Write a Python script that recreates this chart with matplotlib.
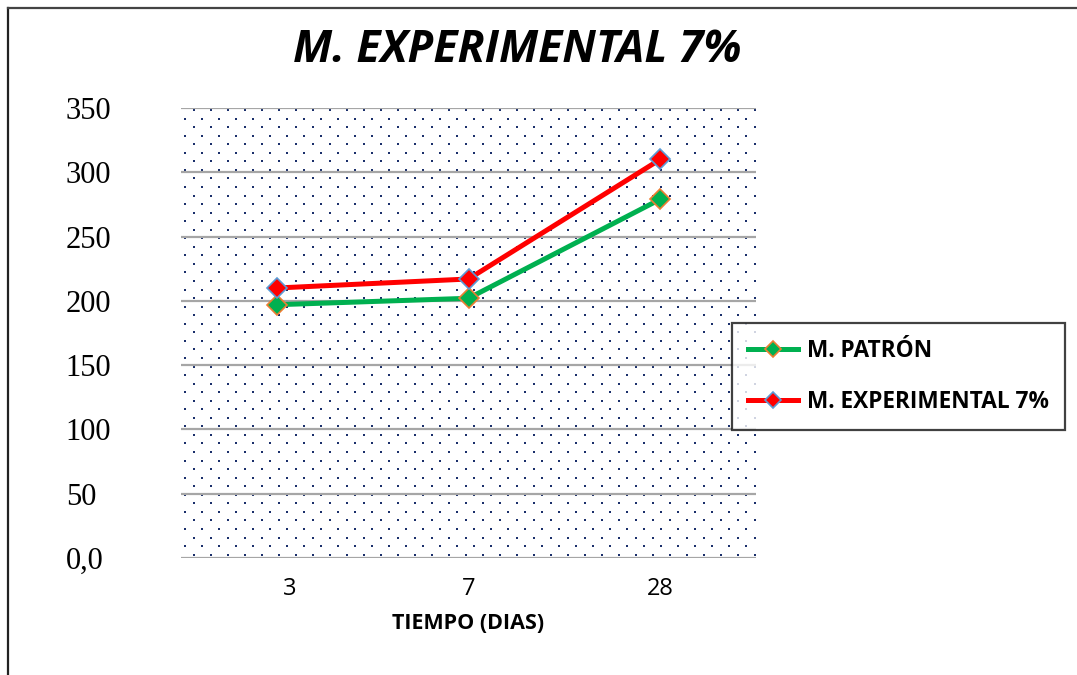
import matplotlib
matplotlib.use("Agg")
import matplotlib.pyplot as plt
import numpy as np
from matplotlib.lines import Line2D
import matplotlib.transforms as mtransforms

# Data
dias = ["3", "7", "28"]
patron = [197, 202, 279]
experimental = [210, 217, 310]
yticks = [0, 50, 100, 150, 200, 250, 300, 350]
yticklabels = ["0,0", "50", "100", "150", "200", "250", "300", "350"]

W, H = 1077, 675
fig = plt.figure(figsize=(W / 100, H / 100), dpi=100)
fig.patch.set_facecolor("white")

# outer frame (left and top edges)
fig.add_artist(Line2D([8 / W, 8 / W], [0, 1 - 8 / H], transform=fig.transFigure,
                      color="#222222", lw=1.6))
fig.add_artist(Line2D([8 / W, 1], [1 - 8 / H, 1 - 8 / H], transform=fig.transFigure,
                      color="#444444", lw=1.6))

L, R, T, B = 181, 756, 108, 558
ax = fig.add_axes([L / W, 1 - B / H, (R - L) / W, (B - T) / H])
ax.set_xlim(-0.5, 2.5)
ax.set_ylim(0, 350)

# dotted background fill
aw, ah = R - L, B - T
dx, dy = 17.0, 8.55
pts_x, pts_y = [], []
row = 0
yy = 2.0
while yy < ah:
    off = 8.5 if row % 2 == 0 else 0.0
    xx = 4.0 + off
    while xx < aw:
        pts_x.append(xx / aw)
        pts_y.append(1 - yy / ah)
        xx += dx
    yy += dy
    row += 1
ax.scatter(pts_x, pts_y, s=2.2, marker="s", color="#1a2f6b", linewidths=0,
           transform=ax.transAxes, zorder=0)

# gridlines
for v in yticks:
    ax.axhline(v, color="#a6a6a6", lw=1.6, zorder=1)

for s in ax.spines.values():
    s.set_visible(False)

x = np.arange(len(dias))
ax.plot(x, patron, color="#00B050", lw=3.6, marker="D", ms=10.5,
        markerfacecolor="#00B050", markeredgecolor="#ED7D31", markeredgewidth=1.2,
        zorder=3, label="M. PATRÓN")
ax.plot(x, experimental, color="#FF0000", lw=3.6, marker="D", ms=10.5,
        markerfacecolor="#FF0000", markeredgecolor="#5B9BD5", markeredgewidth=1.2,
        zorder=4, label="M. EXPERIMENTAL 7%")

ax.set_yticks(yticks)
ax.set_yticklabels(yticklabels, fontfamily="Liberation Serif", fontsize=22, ha="left")
ax.tick_params(axis="y", length=0, pad=83)
ax.set_xticks(x)
ax.set_xticklabels(dias, fontfamily="Open Sans", fontsize=17)
ax.tick_params(axis="x", length=0, pad=14)
lbl0 = ax.get_xticklabels()[0]
lbl0.set_transform(lbl0.get_transform() +
                   mtransforms.ScaledTranslation(13 / 100, 0, fig.dpi_scale_trans))

ax.set_xlabel("TIEMPO (DIAS)", fontfamily="Open Sans", fontweight="bold",
              fontsize=15.5, labelpad=8)

fig.text(517 / W, 1 - 51 / H, "M. EXPERIMENTAL 7%", ha="center", va="center",
         fontfamily="Open Sans", fontweight="bold", fontstyle="italic", fontsize=32)

leg = ax.legend(loc="upper left", bbox_to_anchor=(732 / W, 1 - 323 / H),
                bbox_transform=fig.transFigure, borderaxespad=0,
                prop={"family": "Open Sans", "weight": "bold", "size": 16.3},
                frameon=True, fancybox=False, handlelength=2.2, handletextpad=0.4,
                labelspacing=1.2, borderpad=0.7, markerscale=0.8)
leg.get_frame().set_edgecolor("#111111")
leg.get_frame().set_linewidth(1.6)

fig.savefig("out.png", dpi=100, facecolor="white")
